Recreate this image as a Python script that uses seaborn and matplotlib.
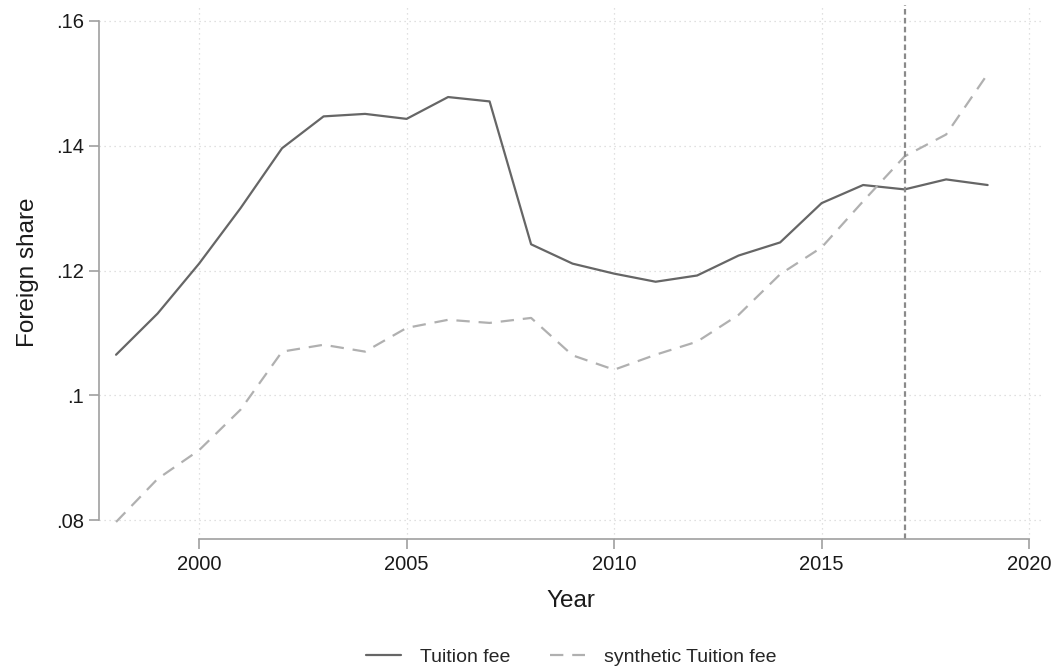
import pandas as pd
import matplotlib
matplotlib.use("Agg")
import matplotlib.pyplot as plt
import seaborn as sns

# --- Data ---
years = list(range(1998, 2020))
tuition_fee = [0.1065, 0.1131, 0.1211, 0.1300, 0.1396, 0.1447, 0.1451, 0.1443,
               0.1478, 0.1471, 0.1242, 0.1211, 0.1195, 0.1182, 0.1192, 0.1224,
               0.1245, 0.1308, 0.1337, 0.1330, 0.1346, 0.1337]
synthetic_fee = [0.0797, 0.0866, 0.0912, 0.0977, 0.1070, 0.1081, 0.1070, 0.1108,
                 0.1121, 0.1116, 0.1124, 0.1064, 0.1041, 0.1065, 0.1086, 0.1129,
                 0.1194, 0.1237, 0.1311, 0.1383, 0.1418, 0.1515]
treatment_year = 2017
x_ticks = [2000, 2005, 2010, 2015, 2020]
y_ticks = [0.08, 0.10, 0.12, 0.14, 0.16]
y_tick_labels = [".08", ".1", ".12", ".14", ".16"]

df = pd.DataFrame({"Year": years, "Tuition fee": tuition_fee,
                   "synthetic Tuition fee": synthetic_fee})

sns.set_theme(style="white")
plt.rcParams['font.family'] = ['Liberation Sans', 'DejaVu Sans']

fig = plt.figure(figsize=(10.57, 6.71), dpi=100)
ax = fig.add_axes([0.0937, 0.197, 0.8933, 0.796])

# --- Lines ---
sns.lineplot(x="Year", y="Tuition fee", data=df, ax=ax, color="#666666",
             linewidth=1.6, label="Tuition fee")
sns.lineplot(x="Year", y="synthetic Tuition fee", data=df, ax=ax, color="#b0b0b0",
             linewidth=1.6, label="synthetic Tuition fee")
ax.lines[1].set_dashes([6, 4])
ax.axvline(treatment_year, color="#8a8a8a", linewidth=1.6, linestyle=(0, (2.5, 1.5)))

# --- Axes styling (Stata-like) ---
ax.set_xlim(1997.59, 2020.34)
ax.set_ylim(0.0770, 0.1626)
ax.set_xticks(x_ticks)
ax.set_yticks(y_ticks)
ax.set_yticklabels(y_tick_labels)
ax.grid(True, color="#d6d6d6", linestyle=(0, (1, 3)), linewidth=0.9)

for side in ["top", "right"]:
    ax.spines[side].set_visible(False)
ax.spines["left"].set_bounds(0.08, 0.16)
ax.spines["bottom"].set_bounds(2000, 2020)
for side in ["left", "bottom"]:
    ax.spines[side].set_color("#a0a0a0")
    ax.spines[side].set_linewidth(1.2)
ax.tick_params(axis="both", which="major", length=7, width=1.2, color="#a0a0a0",
               labelsize=14.5, labelcolor="#1a1a1a", direction="out",
               left=True, bottom=True)
ax.tick_params(axis="y", pad=4)
ax.tick_params(axis="x", pad=5)

ax.set_xlabel("Year", fontsize=17.5, color="#1a1a1a", labelpad=11)
ax.set_ylabel("Foreign share", fontsize=17.5, color="#1a1a1a", labelpad=12)

leg = ax.legend(loc="center", bbox_to_anchor=(0.5, -0.222), ncol=2, frameon=False,
                fontsize=14, handlelength=1.8, handletextpad=1.0,
                columnspacing=2.0, borderaxespad=0, borderpad=0)
leg.get_lines()[1].set_dashes([6, 4])

plt.savefig("out.png", dpi=100)
